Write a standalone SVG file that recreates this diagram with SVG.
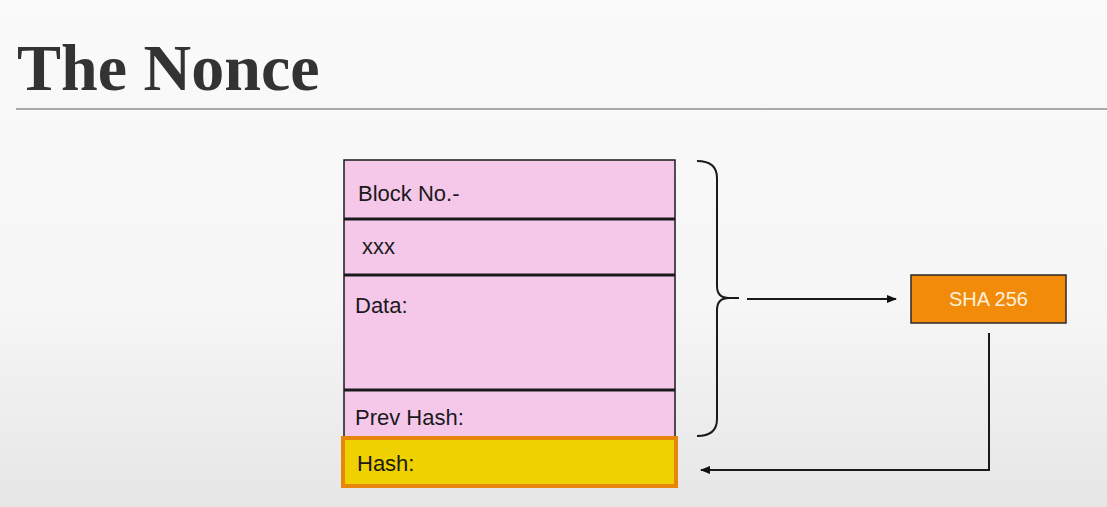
<svg xmlns="http://www.w3.org/2000/svg" width="1107" height="507" viewBox="0 0 1107 507">
<defs>
<linearGradient id="bg" x1="0" y1="0" x2="0" y2="1">
<stop offset="0" stop-color="#fafafa"/>
<stop offset="0.6" stop-color="#f6f6f6"/>
<stop offset="1" stop-color="#e6e6e6"/>
</linearGradient>
<marker id="ah" viewBox="0 0 10 10" refX="9" refY="5" markerWidth="11" markerHeight="10" markerUnits="userSpaceOnUse" orient="auto">
<path d="M0,1 L10,5 L0,9 z" fill="#111"/>
</marker>
<style>
.lbl{font-family:"Liberation Sans",Arial,sans-serif;font-size:22px;fill:#1a1a1a}
.cell{fill:#f5c8ea;stroke:#1a1a1a;stroke-width:1.5}
.div{stroke:#1a1a1a;stroke-width:3}
.conn{fill:none;stroke:#1a1a1a;stroke-width:2}
</style>
</defs>
<rect width="1107" height="507" fill="url(#bg)"/>
<text x="17" y="90" font-family="Liberation Serif,'Times New Roman',serif" font-weight="bold" font-size="66" fill="#333">The Nonce</text>
<line x1="16" y1="109" x2="1107" y2="109" stroke="#aaa" stroke-width="2"/>

<g id="block">
<rect class="cell" x="344" y="160" width="331" height="277"/>
<line class="div" x1="344" y1="219" x2="675" y2="219"/>
<line class="div" x1="344" y1="275" x2="675" y2="275"/>
<line class="div" x1="344" y1="390" x2="675" y2="390"/>
<text class="lbl" x="358" y="201">Block No.-</text>
<text class="lbl" x="362" y="254">xxx</text>
<text class="lbl" x="355" y="313">Data:</text>
<text class="lbl" x="355" y="425">Prev Hash:</text>
</g>

<g id="hash">
<rect x="343" y="438" width="333" height="48" fill="#efd000" stroke="#e8860c" stroke-width="4"/>
<text class="lbl" x="357" y="471">Hash:</text>
</g>

<g id="sha">
<rect x="911" y="275" width="155" height="48" fill="#f28a0a" stroke="#2a2a2a" stroke-width="1.5"/>
<text x="988.5" y="306" text-anchor="middle" font-family="'Liberation Sans',Arial,sans-serif" font-size="20" fill="#fdf1dc">SHA 256</text>
</g>

<g id="connectors">
<path class="conn" d="M697,161 Q717,161 717,178 L717,286 Q717,298 729,298 L739,298 M729,298 Q717,298 717,310 L717,419 Q717,436 697,436"/>
<line class="conn" x1="747" y1="299" x2="896" y2="299" marker-end="url(#ah)"/>
<path class="conn" d="M989,333 L989,470 L701,470" marker-end="url(#ah)"/>
</g>
</svg>
